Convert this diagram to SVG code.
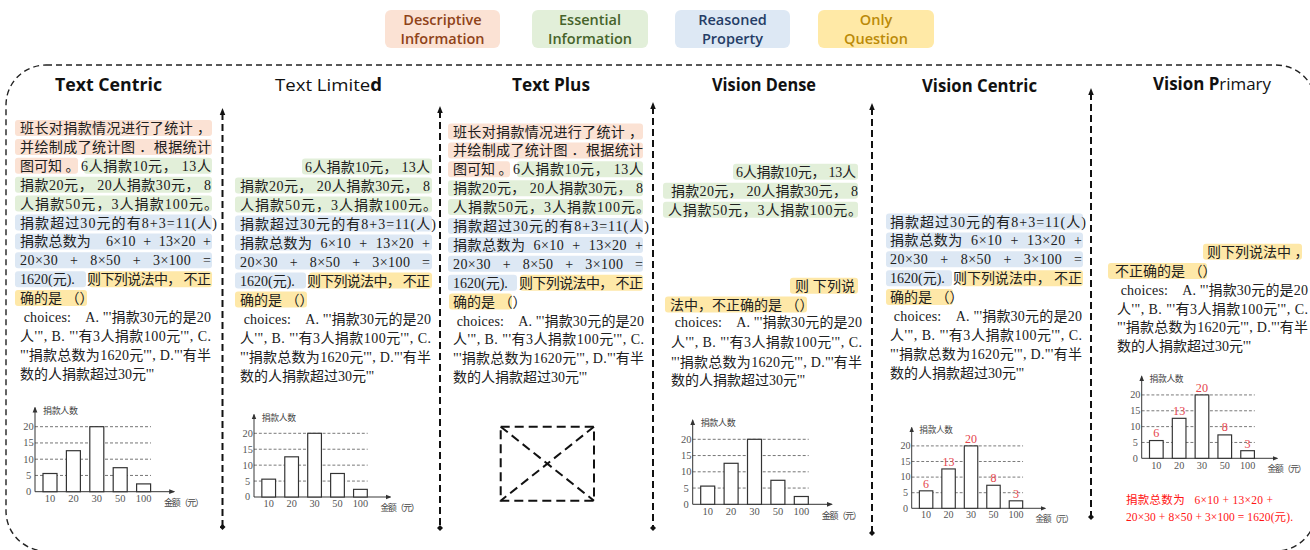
<svg xmlns="http://www.w3.org/2000/svg" width="1310" height="550" viewBox="0 0 1310 550" xml:space="preserve">
<style>
  text { white-space: pre; }
  .t { font-family: "Liberation Serif", "Noto Sans CJK SC", serif; font-size: 14px; fill: #202020; }
  .ttl { font-family: "Open Sans", "Liberation Sans", sans-serif; font-size: 17px; font-weight: 700; fill: #111; }
  .lg { font-family: "Open Sans", "Liberation Sans", sans-serif; font-size: 14.5px; font-weight: 600; text-anchor: middle; }
  .hp { fill: #fbe2d4; }
  .hg { fill: #e2efd9; }
  .hb { fill: #dde8f4; }
  .hy { fill: #fee8a8; }
  .frame { fill: none; stroke: #222; stroke-width: 1.4; stroke-dasharray: 6 4; }
  .div { stroke: #111; stroke-width: 2; stroke-dasharray: 7 4; fill: none; }
  .ph { fill: none; stroke: #111; stroke-width: 2; stroke-dasharray: 9 5; }
  .grid { stroke: #666; stroke-width: 0.9; stroke-dasharray: 3 2; fill: none; }
  .axis { stroke: #333; stroke-width: 1; fill: none; }
  .bar { fill: #fff; stroke: #333; stroke-width: 1.2; }
  .cn { font-family: "Liberation Serif", serif; font-size: 10.5px; fill: #555; text-anchor: middle; }
  .cl { font-family: "Noto Sans CJK SC", sans-serif; font-size: 9px; fill: #444; }
  .rv { font-family: "Liberation Serif", serif; font-size: 12.5px; fill: #e5444c; text-anchor: middle; }
  .red { font-family: "Liberation Serif", "Noto Sans CJK SC", serif; font-size: 11.5px; fill: #ff1414; }
</style>
<defs>
  <marker id="up" viewBox="0 0 10 10" refX="3" refY="5" markerWidth="7" markerHeight="7" orient="auto-start-reverse" markerUnits="userSpaceOnUse">
    <path d="M0 1L10 5L0 9z" fill="#111"/>
  </marker>
  <marker id="dot" viewBox="0 0 10 10" refX="5" refY="5" markerWidth="6" markerHeight="6" markerUnits="userSpaceOnUse">
    <path d="M5 0L10 5L5 10L0 5z" fill="#111"/>
  </marker>
  <marker id="ax" viewBox="0 0 10 10" refX="8" refY="5" markerWidth="6" markerHeight="6" orient="auto" markerUnits="userSpaceOnUse">
    <path d="M0 1L10 5L0 9z" fill="#333"/>
  </marker>
  <!-- bar chart: origin at the axis corner, 3.25 px per person -->
  <g id="chart">
    <path class="grid" d="M0 -16.25H116M0 -32.5H116M0 -48.75H116M0 -65H116"/>
    <path class="axis" d="M0 0V-84" marker-end="url(#ax)"/>
    <path class="axis" d="M0 0H139" marker-end="url(#ax)"/>
    <rect class="bar" x="8" y="-18.2" width="14" height="18.2"/>
    <rect class="bar" x="31.4" y="-41" width="14" height="41"/>
    <rect class="bar" x="54.8" y="-65" width="14" height="65"/>
    <rect class="bar" x="78.2" y="-24" width="14" height="24"/>
    <rect class="bar" x="101.6" y="-7.8" width="14" height="7.8"/>
    <text class="cn" x="-6.5" y="3.5">0</text>
    <text class="cn" x="-6.5" y="-12.75">5</text>
    <text class="cn" x="-6.5" y="-29">10</text>
    <text class="cn" x="-6.5" y="-45.25">15</text>
    <text class="cn" x="-6.5" y="-61.5">20</text>
    <text class="cn" x="15" y="10.5">10</text>
    <text class="cn" x="38.4" y="10.5">20</text>
    <text class="cn" x="61.8" y="10.5">30</text>
    <text class="cn" x="85.2" y="10.5">50</text>
    <text class="cn" x="108.6" y="10.5">100</text>
    <text class="cl" x="8" y="-78" textLength="35">捐款人数</text>
    <text class="cl" x="129" y="14.5" textLength="40">金额（元）</text>
  </g>
  <g id="vals">
    <text class="rv" x="15" y="-21.5">6</text>
    <text class="rv" x="38.4" y="-44.5">13</text>
    <text class="rv" x="61.8" y="-68.5">20</text>
    <text class="rv" x="85.2" y="-27.5">8</text>
    <text class="rv" x="108.6" y="-11">3</text>
  </g>
</defs>

<!-- legend -->
<g id="legend">
  <g id="legend-descriptive">
    <rect x="385" y="10" width="115" height="38" rx="6" fill="#fbe2d4"/>
    <text class="lg" x="442.5" y="25" fill="#8f4318">Descriptive</text>
    <text class="lg" x="442.5" y="44" fill="#8f4318">Information</text>
  </g>
  <g id="legend-essential">
    <rect x="532" y="10" width="116" height="38" rx="6" fill="#e2efd9"/>
    <text class="lg" x="590" y="25" fill="#46632a">Essential</text>
    <text class="lg" x="590" y="44" fill="#46632a">Information</text>
  </g>
  <g id="legend-reasoned">
    <rect x="675" y="10" width="115" height="38" rx="6" fill="#dde8f4"/>
    <text class="lg" x="732.5" y="25" fill="#253d66">Reasoned</text>
    <text class="lg" x="732.5" y="44" fill="#253d66">Property</text>
  </g>
  <g id="legend-question">
    <rect x="818" y="10" width="116" height="38" rx="6" fill="#ffe9a6"/>
    <text class="lg" x="876" y="25" fill="#bb8a08">Only</text>
    <text class="lg" x="876" y="44" fill="#bb8a08">Question</text>
  </g>
</g>

<!-- outer dashed frame -->
<rect class="frame" x="6" y="65" width="1310" height="486" rx="40"/>

<!-- column separators -->
<g id="connectors">
  <line class="div" x1="222.5" y1="113" x2="222.5" y2="527" marker-start="url(#up)" marker-end="url(#dot)"/>
  <line class="div" x1="440" y1="111" x2="440" y2="528" marker-start="url(#up)" marker-end="url(#dot)"/>
  <line class="div" x1="653" y1="107" x2="653" y2="528" marker-start="url(#up)" marker-end="url(#dot)"/>
  <line class="div" x1="872" y1="108" x2="872" y2="533" marker-start="url(#up)" marker-end="url(#dot)"/>
  <line class="div" x1="1091" y1="93" x2="1091" y2="517" marker-start="url(#up)" marker-end="url(#dot)"/>
</g>

<!-- Text Centric -->
<g id="text-centric">
  <text class="ttl" x="55" y="91" textLength="107" lengthAdjust="spacingAndGlyphs">Text Centric</text>
  <rect class="hp" x="15" y="120" width="197" height="16" rx="3"/>
  <rect class="hp" x="15" y="138.9" width="197" height="16" rx="3"/>
  <rect class="hp" x="15" y="157.8" width="63" height="16" rx="3"/>
  <rect class="hg" x="84" y="157.8" width="128" height="16" rx="3"/>
  <rect class="hg" x="15" y="176.7" width="197" height="16" rx="3"/>
  <rect class="hg" x="15" y="195.6" width="197" height="16" rx="3"/>
  <rect class="hb" x="15" y="214.5" width="197" height="16" rx="3"/>
  <rect class="hb" x="15" y="233.4" width="197" height="16" rx="3"/>
  <rect class="hb" x="15" y="252.3" width="197" height="16" rx="3"/>
  <rect class="hb" x="15" y="271.2" width="71" height="16" rx="3"/>
  <rect class="hy" x="89" y="271.2" width="123" height="16" rx="3"/>
  <rect class="hy" x="15" y="290.1" width="72" height="16" rx="3"/>
  <text class="t" x="20" y="133" textLength="191">班长对捐款情况进行了统计 ，</text>
  <text class="t" x="20" y="151.9" textLength="191">并绘制成了统计图 ．根据统计</text>
  <text class="t" x="20" y="170.8">图可知 。</text>
  <text class="t" x="81" y="170.8" textLength="130">6人捐款10元， 13人</text>
  <text class="t" x="20" y="189.7" textLength="191">捐款20元， 20人捐款30元， 8</text>
  <text class="t" x="20" y="208.6" textLength="198">人捐款50元，3人捐款100元。</text>
  <text class="t" x="20" y="227.5" textLength="197">捐款超过30元的有8+3=11(人)</text>
  <text class="t" x="20" y="246.4" textLength="191">捐款总数为    6×10  +  13×20  +</text>
  <text class="t" x="20" y="265.3" textLength="191">20×30   +   8×50   +   3×100   =</text>
  <text class="t" x="20" y="284.2">1620(元). </text>
  <text class="t" x="87" y="284.2" textLength="124">则下列说法中， 不正</text>
  <text class="t" x="20" y="303.1">确的是 （）</text>
  <text class="t" x="20" y="322" textLength="191"> choices:    A. "'捐款30元的是20</text>
  <text class="t" x="20" y="340.9" textLength="191">人'", B. "'有3人捐款100元'", C.</text>
  <text class="t" x="20" y="359.8" textLength="191">"'捐款总数为1620元'", D."'有半</text>
  <text class="t" x="20" y="378.7">数的人捐款超过30元'"</text>
  <use href="#chart" transform="translate(35,491.7)"/>
</g>

<!-- Text Limited -->
<g id="text-limited">
  <text class="ttl" x="275" y="91" textLength="107" lengthAdjust="spacingAndGlyphs"><tspan font-weight="400">Text Limite</tspan>d</text>
  <rect class="hg" x="302" y="158.5" width="130" height="16" rx="3"/>
  <rect class="hg" x="235" y="177.5" width="197" height="16" rx="3"/>
  <rect class="hg" x="235" y="196.5" width="197" height="16" rx="3"/>
  <rect class="hb" x="235" y="215.5" width="197" height="16" rx="3"/>
  <rect class="hb" x="235" y="234.5" width="197" height="16" rx="3"/>
  <rect class="hb" x="235" y="253.5" width="197" height="16" rx="3"/>
  <rect class="hb" x="235" y="272.5" width="71" height="16" rx="3"/>
  <rect class="hy" x="309" y="272.5" width="123" height="16" rx="3"/>
  <rect class="hy" x="235" y="291.5" width="72" height="16" rx="3"/>
  <text class="t" x="305" y="171.5" textLength="125">6人捐款10元， 13人</text>
  <text class="t" x="240" y="190.5" textLength="190">捐款20元， 20人捐款30元， 8</text>
  <text class="t" x="240" y="209.5" textLength="197">人捐款50元，3人捐款100元。</text>
  <text class="t" x="240" y="228.5" textLength="196">捐款超过30元的有8+3=11(人)</text>
  <text class="t" x="240" y="247.5" textLength="190">捐款总数为  6×10  +  13×20  +</text>
  <text class="t" x="240" y="266.5" textLength="190">20×30   +   8×50   +   3×100   =</text>
  <text class="t" x="240" y="285.5">1620(元). </text>
  <text class="t" x="307" y="285.5" textLength="123">则下列说法中， 不正</text>
  <text class="t" x="240" y="304.5">确的是 （）</text>
  <text class="t" x="240" y="323.5" textLength="191"> choices:    A. "'捐款30元的是20</text>
  <text class="t" x="240" y="342.5" textLength="191">人'", B. "'有3人捐款100元'", C.</text>
  <text class="t" x="240" y="361.5" textLength="191">"'捐款总数为1620元'", D."'有半</text>
  <text class="t" x="240" y="380.5">数的人捐款超过30元'"</text>
  <use href="#chart" transform="translate(254,497) scale(0.98)"/>
</g>

<!-- Text Plus -->
<g id="text-plus">
  <text class="ttl" x="512" y="91" textLength="78" lengthAdjust="spacingAndGlyphs">Text Plus</text>
  <g transform="translate(433,3.5)">
    <rect class="hp" x="15" y="120" width="195" height="16" rx="3"/>
    <rect class="hp" x="15" y="138.9" width="195" height="16" rx="3"/>
    <rect class="hp" x="15" y="157.8" width="62" height="16" rx="3"/>
    <rect class="hg" x="84" y="157.8" width="126" height="16" rx="3"/>
    <rect class="hg" x="15" y="176.7" width="195" height="16" rx="3"/>
    <rect class="hg" x="15" y="195.6" width="195" height="16" rx="3"/>
    <rect class="hb" x="15" y="214.5" width="195" height="16" rx="3"/>
    <rect class="hb" x="15" y="233.4" width="195" height="16" rx="3"/>
    <rect class="hb" x="15" y="252.3" width="195" height="16" rx="3"/>
    <rect class="hb" x="15" y="271.2" width="69" height="16" rx="3"/>
    <rect class="hy" x="87" y="271.2" width="123" height="16" rx="3"/>
    <rect class="hy" x="16" y="290.1" width="63" height="16" rx="3"/>
    <text class="t" x="20" y="133" textLength="190">班长对捐款情况进行了统计 ，</text>
    <text class="t" x="20" y="151.9" textLength="190">并绘制成了统计图 ．根据统计</text>
    <text class="t" x="20" y="170.8">图可知 。</text>
    <text class="t" x="80" y="170.8" textLength="130">6人捐款10元， 13人</text>
    <text class="t" x="20" y="189.7" textLength="190">捐款20元， 20人捐款30元， 8</text>
    <text class="t" x="20" y="208.6" textLength="197">人捐款50元，3人捐款100元。</text>
    <text class="t" x="20" y="227.5" textLength="196">捐款超过30元的有8+3=11(人)</text>
    <text class="t" x="20" y="246.4" textLength="190">捐款总数为  6×10  +  13×20  +</text>
    <text class="t" x="20" y="265.3" textLength="190">20×30   +   8×50   +   3×100   =</text>
    <text class="t" x="20" y="284.2">1620(元). </text>
    <text class="t" x="86" y="284.2" textLength="124">则下列说法中， 不正</text>
    <text class="t" x="20" y="303.1">确的是 （）</text>
    <text class="t" x="20" y="322" textLength="191"> choices:    A. "'捐款30元的是20</text>
    <text class="t" x="20" y="340.9" textLength="191">人'", B. "'有3人捐款100元'", C.</text>
    <text class="t" x="20" y="359.8" textLength="191">"'捐款总数为1620元'", D."'有半</text>
    <text class="t" x="20" y="378.7">数的人捐款超过30元'"</text>
  </g>
  <!-- empty image placeholder -->
  <rect class="ph" x="500.7" y="426.7" width="93.3" height="74"/>
  <path class="ph" d="M500.7 426.7L594 500.7M594 426.7L500.7 500.7"/>
</g>

<!-- Vision Dense -->
<g id="vision-dense">
  <text class="ttl" x="712" y="91" textLength="104" lengthAdjust="spacingAndGlyphs">Vision Dense</text>
  <rect class="hg" x="733" y="163.7" width="125" height="16" rx="3"/>
  <rect class="hg" x="663" y="182.7" width="195" height="16" rx="3"/>
  <rect class="hg" x="663" y="201.7" width="195" height="16" rx="3"/>
  <rect class="hy" x="790" y="277.7" width="68" height="16" rx="3"/>
  <rect class="hy" x="665" y="296.5" width="142" height="16" rx="3"/>
  <text class="t" x="736" y="176.7" textLength="120">6人捐款10元， 13人</text>
  <text class="t" x="671" y="195.7" textLength="187">捐款20元， 20人捐款30元， 8</text>
  <text class="t" x="668" y="214.7" textLength="194">人捐款50元，3人捐款100元。</text>
  <text class="t" x="795" y="290.7" textLength="60">则 下列说</text>
  <text class="t" x="670" y="309.5">法中，不正确的是 （）</text>
  <text class="t" x="671" y="327.3" textLength="191"> choices:    A. "'捐款30元的是20</text>
  <text class="t" x="671" y="347.3" textLength="191">人'", B. "'有3人捐款100元'", C.</text>
  <text class="t" x="671" y="366.7" textLength="191">"'捐款总数为1620元'", D."'有半</text>
  <text class="t" x="671" y="385">数的人捐款超过30元'"</text>
  <use href="#chart" transform="translate(692.7,504.3)"/>
</g>

<!-- Vision Centric -->
<g id="vision-centric">
  <text class="ttl" x="922" y="92" textLength="115" lengthAdjust="spacingAndGlyphs">Vision Centric</text>
  <rect class="hb" x="886" y="213.5" width="197" height="16" rx="3"/>
  <rect class="hb" x="886" y="232.4" width="197" height="16" rx="3"/>
  <rect class="hb" x="886" y="251.3" width="197" height="16" rx="3"/>
  <rect class="hb" x="886" y="270.2" width="66" height="16" rx="3"/>
  <rect class="hy" x="959" y="270.2" width="124" height="16" rx="3"/>
  <rect class="hy" x="886" y="289.1" width="67" height="16" rx="3"/>
  <text class="t" x="890" y="226.5" textLength="196">捐款超过30元的有8+3=11(人)</text>
  <text class="t" x="890" y="245.4" textLength="192">捐款总数为  6×10  +  13×20  +</text>
  <text class="t" x="890" y="264.3" textLength="192">20×30   +   8×50   +   3×100   =</text>
  <text class="t" x="890" y="283.2">1620(元). </text>
  <text class="t" x="953" y="283.2" textLength="129">则下列说法中， 不正</text>
  <text class="t" x="890" y="302.1">确的是 （）</text>
  <text class="t" x="890" y="321" textLength="192"> choices:    A. "'捐款30元的是20</text>
  <text class="t" x="890" y="339.9" textLength="192">人'", B. "'有3人捐款100元'", C.</text>
  <text class="t" x="890" y="358.8" textLength="192">"'捐款总数为1620元'", D."'有半</text>
  <text class="t" x="890" y="377.7">数的人捐款超过30元'"</text>
  <g transform="translate(911.7,508.3) scale(0.96)">
    <use href="#chart"/>
    <use href="#vals"/>
  </g>
</g>

<!-- Vision Primary -->
<g id="vision-primary">
  <text class="ttl" x="1153" y="90" textLength="118" lengthAdjust="spacingAndGlyphs">Vision P<tspan font-weight="400">rimary</tspan></text>
  <rect class="hy" x="1203" y="243.7" width="99" height="16" rx="3"/>
  <rect class="hy" x="1108" y="263" width="99" height="16" rx="3"/>
  <text class="t" x="1207" y="256.7">则下列说法中 ，</text>
  <text class="t" x="1115" y="276">不正确的是 （）</text>
  <text class="t" x="1117" y="295" textLength="191"> choices:    A. "'捐款30元的是20</text>
  <text class="t" x="1117" y="313.7" textLength="191">人'", B. "'有3人捐款100元'", C.</text>
  <text class="t" x="1117" y="332.4" textLength="191">"'捐款总数为1620元'", D."'有半</text>
  <text class="t" x="1117" y="351">数的人捐款超过30元'"</text>
  <g transform="translate(1141.7,458.3) scale(0.975)">
    <use href="#chart"/>
    <use href="#vals"/>
  </g>
  <text class="red" x="1126" y="504" textLength="147">捐款总数为   6×10 + 13×20 +</text>
  <text class="red" x="1126" y="520.5" textLength="167">20×30 + 8×50 + 3×100 = 1620(元).</text>
</g>
</svg>
